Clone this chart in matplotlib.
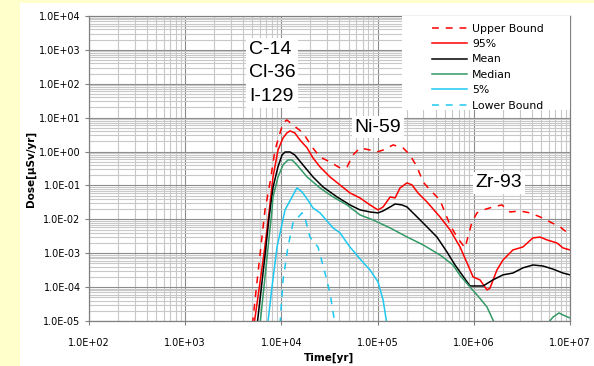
import numpy as np
import matplotlib
matplotlib.use("Agg")
import matplotlib.pyplot as plt
from matplotlib.patches import Rectangle
from matplotlib.ticker import LogLocator, FuncFormatter, NullFormatter

nan = np.nan

# time [yr] and dose [uSv/yr]
upper_t = [5.0e3, 5.5e3, 6.75e3, 7.61e3, 8.58e3, 9.67e3, 1.04e4, 1.14e4, 1.32e4, 1.68e4,
           2.08e4, 2.52e4, 3.2e4, 4.07e4, 4.81e4, 5.55e4, 6.56e4, 8.34e4, 9.86e4, 1.14e5,
           1.45e5, 1.84e5, 2.17e5, 2.57e5, 2.97e5, 3.51e5, 4.45e5, 5.66e5, 6.69e5, 8.1e5,
           9.58e5, 1.08e6, 1.25e6, 1.58e6, 1.96e6, 2.38e6, 3.02e6, 3.84e6, 4.88e6, 6.19e6,
           7.87e6, 1.0e7]
upper_d = [8e-6, 1e-4, 0.0189, 0.119, 1.11, 3.54, 6.98, 8.55, 6.09, 3.54,
           1.37, 0.693, 0.493, 0.328, 0.352, 0.794, 1.28, 1.11, 0.973, 1.11,
           1.57, 1.28, 0.794, 0.352, 0.127, 0.0736, 0.0373, 0.0068, 0.003, 1.43e-3,
           8.4e-3, 0.0155, 0.0189, 0.0232, 0.0266, 0.0165, 0.0177, 0.0155, 0.0118, 0.0084,
           0.006, 0.0035]

p95_t = [5.2e3, 5.9e3, 6.6e3, 7.3e3, 8.18e3, 9.22e3, 1.04e4, 1.14e4, 1.23e4, 1.38e4,
         1.56e4, 1.85e4, 2.13e4, 2.52e4, 3.2e4, 4.07e4, 5.16e4, 6.56e4, 8.34e4, 1.01e5,
         1.14e5, 1.35e5, 1.52e5, 1.71e5, 2.02e5, 2.28e5, 2.63e5, 3.26e5, 4.45e5, 5.66e5,
         7.19e5, 8.5e5, 9.82e5, 1.16e6, 1.37e6, 1.47e6, 1.74e6, 2.01e6, 2.55e6, 3.24e6,
         4.12e6, 4.88e6, 5.77e6, 7.33e6, 8.46e6, 1.0e7]
p95_d = [8e-6, 1e-4, 1e-3, 1e-2, 0.178, 1.11, 2.52, 3.54, 4.06, 3.54,
         2.2, 1.28, 0.648, 0.352, 0.178, 0.1035, 0.06, 0.0428, 0.0266, 0.0189,
         0.0232, 0.0458, 0.0428, 0.0843, 0.119, 0.1035, 0.06, 0.0326, 0.0118, 0.0049,
         0.00153, 5.2e-4, 2.0e-4, 1.63e-4, 8.3e-5, 9.2e-5, 3.2e-4, 6.3e-4, 1.25e-3, 1.53e-3,
         2.83e-3, 3.0e-3, 2.47e-3, 2.0e-3, 1.43e-3, 1.25e-3]

mean_t = [5.6e3, 6.2e3, 6.8e3, 7.4e3, 8.2e3, 9.2e3, 1.015e4, 1.09e4, 1.23e4, 1.38e4,
          1.68e4, 2.13e4, 2.71e4, 3.78e4, 5.16e4, 6.56e4, 8.34e4, 1.01e5, 1.14e5, 1.35e5,
          1.52e5, 1.79e5, 2.02e5, 2.57e5, 3.26e5, 4.14e5, 5.26e5, 6.38e5, 7.19e5, 9.13e5,
          1.25e6, 1.58e6, 2.01e6, 2.55e6, 3.24e6, 4.12e6, 5.24e6, 6.65e6, 8.46e6, 1.0e7]
mean_d = [8e-6, 1e-4, 1e-3, 1e-2, 0.09, 0.35, 0.79, 0.97, 0.97, 0.79,
          0.40, 0.178, 0.09, 0.046, 0.0266, 0.019, 0.0165, 0.0155, 0.0177, 0.0232,
          0.0284, 0.0266, 0.0232, 0.0118, 0.006, 0.003, 0.00109, 4.5e-4, 2.8e-4, 1.08e-4,
          1.08e-4, 1.63e-4, 2.3e-4, 2.6e-4, 3.7e-4, 4.5e-4, 4.2e-4, 3.4e-4, 2.6e-4, 2.3e-4]

median_t = [6.0e3, 7.98e3, 8.18e3, 9.22e3, 1.04e4, 1.17e4, 1.29e4, 1.45e4, 1.85e4, 2.52e4,
            3.44e4, 4.81e4, 6.56e4, 8.95e4, 1.35e5, 2.02e5, 2.97e5, 4.45e5, 6.08e5, 7.19e5,
            9.13e5, 1.08e6, 1.37e6, 1.66e6, 3.0e6, 5.77e6, 6.65e6, 7.69e6, 8.46e6, 1.0e7]
median_d = [8e-6, 0.0189, 0.0458, 0.178, 0.403, 0.565, 0.565, 0.403, 0.178, 0.0843,
            0.0458, 0.0266, 0.0135, 0.0096, 0.00557, 0.00303, 0.00176, 8.9e-4, 4.5e-4, 2.2e-4,
            1.01e-4, 5.9e-5, 2.6e-5, 8e-6, nan, 8e-6, 1.3e-5, 1.73e-5, 1.5e-5, 1.23e-5]

p5_t = [7.2e3, 7.98e3, 9.0e3, 1.0e4, 1.09e4, 1.29e4, 1.45e4, 1.64e4, 1.85e4, 2.13e4,
        2.52e4, 3.44e4, 4.07e4, 4.81e4, 5.16e4, 6.56e4, 8.34e4, 1.01e5, 1.14e5, 1.25e5]
p5_d = [8e-6, 1e-4, 1.5e-3, 6e-3, 0.0189, 0.0458, 0.0843, 0.0643, 0.04, 0.0217,
        0.0155, 0.00557, 0.004, 0.002, 0.00153, 6.8e-4, 3.2e-4, 1.42e-4, 4.2e-5, 8e-6]

lower_t = [9.67e3, 1.04e4, 1.17e4, 1.32e4, 1.64e4, 1.76e4, 1.98e4, 2.4e4, 2.84e4, 3.2e4, 3.61e4]
lower_d = [8e-6, 1.63e-4, 1.53e-3, 7.8e-3, 0.0155, 0.011, 0.003, 1.53e-3, 2.6e-4, 6.7e-5, 8e-6]

RED = "#FF0000"
GREEN = "#339966"
CYAN = "#1EC8F0"
LW = 1.1

fig = plt.figure(figsize=(5.94, 3.66), dpi=100)
fig.patch.set_facecolor("#FFFFCC")
# white chart area over the yellow slide background
fig.patches.append(Rectangle((20 / 594, 0), 574 / 594, 363 / 366, transform=fig.transFigure,
                             facecolor="white", edgecolor="none", zorder=-10))

ax = fig.add_axes([89 / 594, 45 / 366, 481 / 594, 305 / 366])
ax.set_zorder(1)
ax.set_xscale("log")
ax.set_yscale("log")
ax.set_xlim(1e2, 1e7)
ax.set_ylim(1e-5, 1e4)
ax.set_axisbelow(True)

ax.xaxis.set_major_locator(LogLocator(base=10, numticks=20))
ax.yaxis.set_major_locator(LogLocator(base=10, numticks=20))
ax.xaxis.set_minor_locator(LogLocator(base=10, subs=np.arange(2, 10), numticks=20))
ax.yaxis.set_minor_locator(LogLocator(base=10, subs=np.arange(2, 10), numticks=20))
fmt = FuncFormatter(lambda v, p: f"{v:.1E}")
ax.xaxis.set_major_formatter(fmt)
ax.yaxis.set_major_formatter(fmt)
ax.xaxis.set_minor_formatter(NullFormatter())
ax.yaxis.set_minor_formatter(NullFormatter())

ax.grid(which="major", color="#8C8C8C", lw=0.8)
ax.grid(which="minor", color="#C8C8C8", lw=0.8)
for s in ax.spines.values():
    s.set_color("#808080")
    s.set_linewidth(0.9)
ax.tick_params(which="major", direction="out", length=3, color="#808080", labelsize=7)
ax.tick_params(which="minor", length=0)
ax.tick_params(axis="x", pad=9)
ax.tick_params(axis="y", pad=3)

ax.plot(upper_t, upper_d, color=RED, lw=LW, dashes=(4.5, 4.5), label="Upper Bound")
ax.plot(p95_t, p95_d, color=RED, lw=LW, label="95%")
ax.plot(mean_t, mean_d, color="black", lw=LW, label="Mean")
ax.plot(median_t, median_d, color=GREEN, lw=LW, label="Median")
ax.plot(p5_t, p5_d, color=CYAN, lw=LW, label="5%")
ax.plot(lower_t, lower_d, color=CYAN, lw=LW, dashes=(4.5, 4.5), label="Lower Bound")

ax.set_xlabel("Time[yr]", fontsize=7.5, fontweight="bold", labelpad=4)
ax.set_ylabel("Dose[μSv/yr]", fontsize=7.5, fontweight="bold", labelpad=2)

# legend on a white block in the upper right
ax.add_patch(Rectangle((0.651, 0.692), 0.349, 0.308, transform=ax.transAxes,
                       facecolor="white", edgecolor="none", zorder=3))
leg = ax.legend(loc="upper left", bbox_to_anchor=(0.697, 1.0), frameon=False, fontsize=7.8,
                handlelength=3.2, handletextpad=0.5, labelspacing=0.5, borderpad=0.2)
leg.set_zorder(5)

box = dict(facecolor="white", edgecolor="none", pad=2)
ax.text(4.6e3, 2.1e2, "C-14\nCl-36\nI-129", fontsize=14, family="Liberation Sans",
        ha="left", va="center", linespacing=1.5, bbox=box, zorder=4)
ax.text(1.0e5, 5.3, "Ni-59", fontsize=14, family="Liberation Sans",
        ha="center", va="center", bbox=box, zorder=4)
ax.text(1.83e6, 0.119, "Zr-93", fontsize=14, family="Liberation Sans",
        ha="center", va="center", bbox=box, zorder=4)

fig.savefig("out.png", dpi=100, facecolor=fig.get_facecolor())
